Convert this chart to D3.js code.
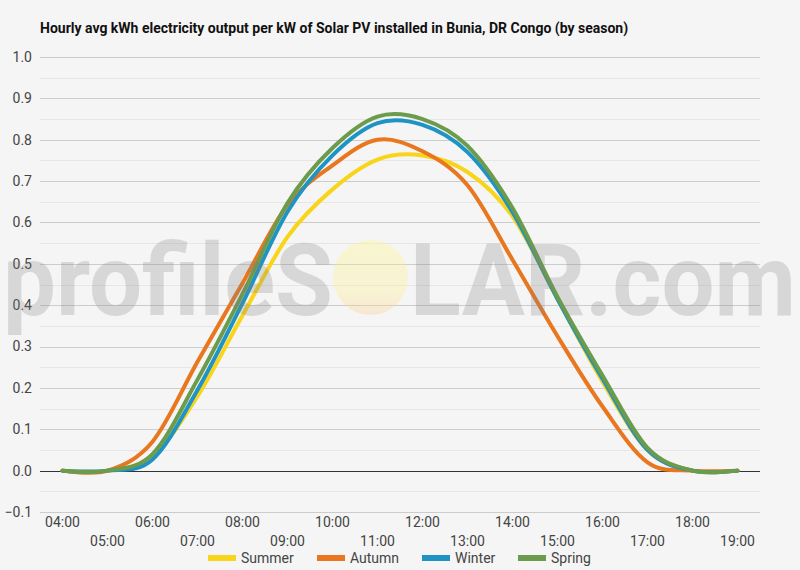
<!DOCTYPE html>
<html>
<head>
<meta charset="utf-8">
<script src="https://cdn.jsdelivr.net/npm/d3@7/dist/d3.min.js"></script>
<style>
  html, body { margin: 0; padding: 0; background: #f5f5f5; }
  svg { display: block; font-family: Roboto, "Noto Sans", sans-serif; }
</style>
</head>
<body>
<svg id="chart" width="800" height="570"></svg>
<script>
const hours = ["04:00","05:00","06:00","07:00","08:00","09:00","10:00","11:00","12:00","13:00","14:00","15:00","16:00","17:00","18:00","19:00"];
const summer = [0, 0, 0.035, 0.18, 0.375, 0.565, 0.68, 0.752, 0.762, 0.722, 0.615, 0.415, 0.215, 0.05, 0, 0];
const autumn = [0, 0, 0.07, 0.263, 0.453, 0.642, 0.738, 0.80, 0.772, 0.69, 0.51, 0.325, 0.155, 0.02, 0, 0];
const winter = [0, 0, 0.027, 0.195, 0.405, 0.626, 0.762, 0.84, 0.836, 0.77, 0.625, 0.415, 0.222, 0.05, 0, 0];
const spring = [0, 0, 0.04, 0.22, 0.427, 0.647, 0.78, 0.856, 0.85, 0.785, 0.635, 0.42, 0.23, 0.055, 0, 0];
const seriesNames = ["Summer", "Autumn", "Winter", "Spring"];
const seriesColors = ["#f8d41a", "#e8771f", "#1f93c4", "#6b9b4b"];
const yTicks = [-0.1, 0, 0.1, 0.2, 0.3, 0.4, 0.5, 0.6, 0.7, 0.8, 0.9, 1.0];
const yMinorTicks = [-0.05, 0.05, 0.15, 0.25, 0.35, 0.45, 0.55, 0.65, 0.75, 0.85, 0.95];
const title = "Hourly avg kWh electricity output per kW of Solar PV installed in Bunia, DR Congo (by season)";

const allSeries = [summer, autumn, winter, spring];
const svg = d3.select("#chart");
const W = 800, H = 570;
const m = { left: 40, right: 40, top: 57, bottom: 58 };

svg.append("rect").attr("width", W).attr("height", H).attr("fill", "#f5f5f5");

const x = d3.scaleBand().domain(hours).range([m.left, W - m.right]);
const y = d3.scaleLinear().domain([-0.1, 1.0]).range([H - m.bottom, m.top]);
const cx = d => x(d) + x.bandwidth() / 2;

// minor gridlines
svg.append("g").selectAll("line").data(yMinorTicks).join("line")
  .attr("x1", m.left).attr("x2", W - m.right)
  .attr("y1", d => Math.round(y(d)) + 0.5).attr("y2", d => Math.round(y(d)) + 0.5)
  .attr("stroke", "#e6e6e6").attr("stroke-width", 1);

// major gridlines
svg.append("g").selectAll("line").data(yTicks).join("line")
  .attr("x1", m.left).attr("x2", W - m.right)
  .attr("y1", d => Math.round(y(d)) + 0.5).attr("y2", d => Math.round(y(d)) + 0.5)
  .attr("stroke", d => d === 0 ? "#333333" : "#cccccc").attr("stroke-width", 1);

// y labels
svg.append("g").selectAll("text").data(yTicks).join("text")
  .attr("x", m.left - 8).attr("y", d => y(d)).attr("dy", "0.35em")
  .attr("text-anchor", "end").attr("font-size", 14).attr("fill", "#444")
  .text(d => d3.format(".1f")(d));

// x labels (two rows)
svg.append("g").selectAll("text").data(hours).join("text")
  .attr("x", d => cx(d)).attr("y", (d, i) => i % 2 === 0 ? 527 : 546)
  .attr("text-anchor", "middle").attr("font-size", 14).attr("fill", "#444")
  .text(d => d);

// lines
const line = d3.line()
  .x((d, i) => cx(hours[i]))
  .y(d => y(d))
  .curve(d3.curveCardinal.tension(0));

svg.append("g").selectAll("path").data(allSeries).join("path")
  .attr("d", d => line(d))
  .attr("fill", "none")
  .attr("stroke", (d, i) => seriesColors[i])
  .attr("stroke-width", 4)
  .attr("stroke-linecap", "round")
  .attr("stroke-linejoin", "round");

// watermark
const defs = svg.append("defs");
const grad = defs.append("linearGradient").attr("id", "sun").attr("x1", 0).attr("y1", 0).attr("x2", 0).attr("y2", 1);
grad.append("stop").attr("offset", "0%").attr("stop-color", "rgb(255,245,120)").attr("stop-opacity", 0.3);
grad.append("stop").attr("offset", "70%").attr("stop-color", "rgb(255,238,130)").attr("stop-opacity", 0.3);
grad.append("stop").attr("offset", "100%").attr("stop-color", "rgb(250,200,150)").attr("stop-opacity", 0.35);

const wm = svg.append("g").attr("pointer-events", "none");
wm.append("text").attr("x", 3).attr("y", 315)
  .attr("font-size", 101).attr("font-weight", "bold").attr("fill", "rgba(128,128,128,0.25)")
  .attr("textLength", 330).attr("lengthAdjust", "spacingAndGlyphs")
  .text("profileS");
wm.append("circle").attr("cx", 370.5).attr("cy", 277.5).attr("r", 37.5).attr("fill", "url(#sun)");
wm.append("text").attr("x", 410).attr("y", 315)
  .attr("font-size", 101).attr("font-weight", "bold").attr("fill", "rgba(128,128,128,0.25)")
  .attr("textLength", 386).attr("lengthAdjust", "spacingAndGlyphs")
  .text("LAR.com");

// title
svg.append("text").attr("x", 40).attr("y", 33)
  .attr("font-size", 14).attr("font-weight", "bold").attr("fill", "#111")
  .text(title);

// legend
const legendX = [208, 317, 422, 518];
const lg = svg.append("g").selectAll("g").data(seriesNames).join("g")
  .attr("transform", (d, i) => `translate(${legendX[i]},558)`);
lg.append("rect").attr("x", 0).attr("y", -3).attr("width", 28).attr("height", 6)
  .attr("fill", (d, i) => seriesColors[i]);
lg.append("text").attr("x", 33).attr("y", 0).attr("dy", "0.35em")
  .attr("font-size", 14).attr("fill", "#444").text(d => d);
</script>
</body>
</html>
